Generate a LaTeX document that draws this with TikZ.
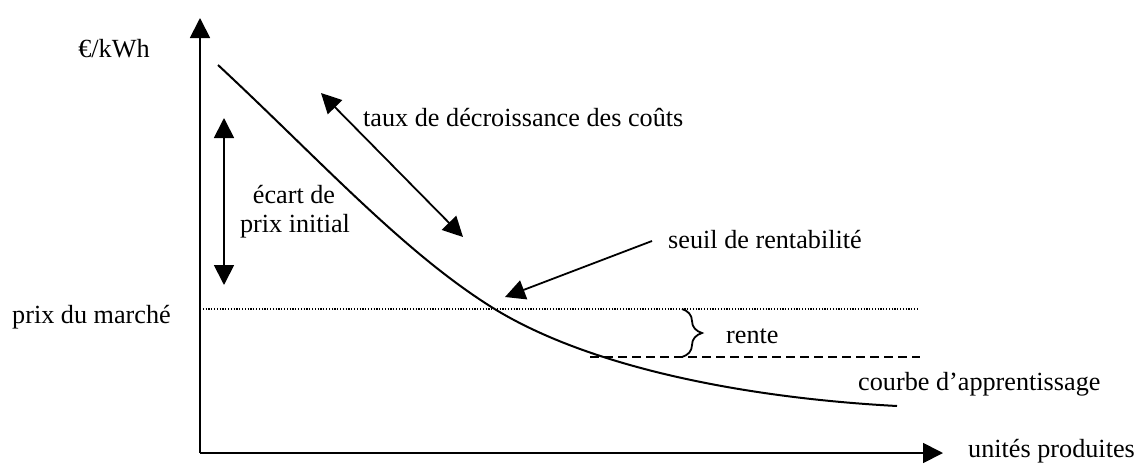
\documentclass[tikz,border=0pt]{standalone}
\usepackage{fontspec}
\setmainfont{Liberation Serif}
\usetikzlibrary{arrows.meta,decorations.pathreplacing}
\begin{document}
\begin{tikzpicture}[x=1pt,y=-1pt,
  lbl/.style={inner sep=0pt,font=\fontsize{26.2}{30}\selectfont},
  axis/.style={line width=1.8pt,-{Triangle[width=20pt,length=20pt]}},
  dbl/.style={line width=1.8pt,{Triangle[width=20pt,length=20pt]}-{Triangle[width=20pt,length=20pt]}},
  sgl/.style={line width=1.8pt,-{Triangle[width=20pt,length=20pt]}},
  curvestyle/.style={line width=2pt},
  marketline/.style={line width=1.1pt,dash pattern=on 1.2pt off 1.6pt},
  rentline/.style={line width=1.6pt,dash pattern=on 9pt off 5pt},
  bracestyle/.style={line width=1.8pt,decorate,decoration={brace,amplitude=20pt}}]
\useasboundingbox (0,0) rectangle (1137,466);
% coordinates
\coordinate (O) at (200,453);
\coordinate (Ytop) at (200,18);
\coordinate (Xend) at (943,453);
\coordinate (M0) at (200,309);
\coordinate (M1) at (919,309);
\coordinate (R0) at (590,357);
\coordinate (R1) at (920,357);
\coordinate (G0) at (224,118);
\coordinate (G1) at (224,285);
\coordinate (D0) at (321,93);
\coordinate (D1) at (463,237);
\coordinate (S0) at (652,241);
\coordinate (S1) at (505,297);
\coordinate (B0) at (682,309);
\coordinate (B1) at (682,357);
\coordinate (C0) at (218,65);
\coordinate (C1) at (493,308);
\coordinate (C2) at (897,406);
% axes
\draw[axis] (O) -- (Ytop);
\draw[axis] (O) -- (Xend);
% market price and rent lines
\draw[marketline] (M0) -- (M1);
\draw[rentline] (R0) -- (R1);
% learning curve
\draw[curvestyle] (C0) .. controls (318,158) and (403,252) .. (C1)
  .. controls (590,368) and (747,398) .. (C2);
% arrows
\draw[dbl] (G0) -- (G1);
\draw[dbl] (D0) -- (D1);
\draw[sgl] (S0) -- (S1);
\draw[bracestyle] (B0) -- (B1);
% labels
\node[lbl,anchor=base] (eur) at (114,57) {€/kWh};
\node[lbl,anchor=base west] (pm) at (12,323) {prix du marché};
\node[lbl,anchor=base west] (taux) at (363,126) {taux de décroissance des coûts};
\node[lbl,anchor=base] (ec1) at (294,203) {écart de};
\node[lbl,anchor=base] (ec2) at (295,232) {prix initial};
\node[lbl,anchor=base west] (seuil) at (668,248) {seuil de rentabilité};
\node[lbl,anchor=base west] (rente) at (726,343) {rente};
\node[lbl,anchor=base west] (courbe) at (858,390) {courbe d’apprentissage};
\node[lbl,anchor=base west] (unites) at (968,457) {unités produites};
\end{tikzpicture}
\end{document}
